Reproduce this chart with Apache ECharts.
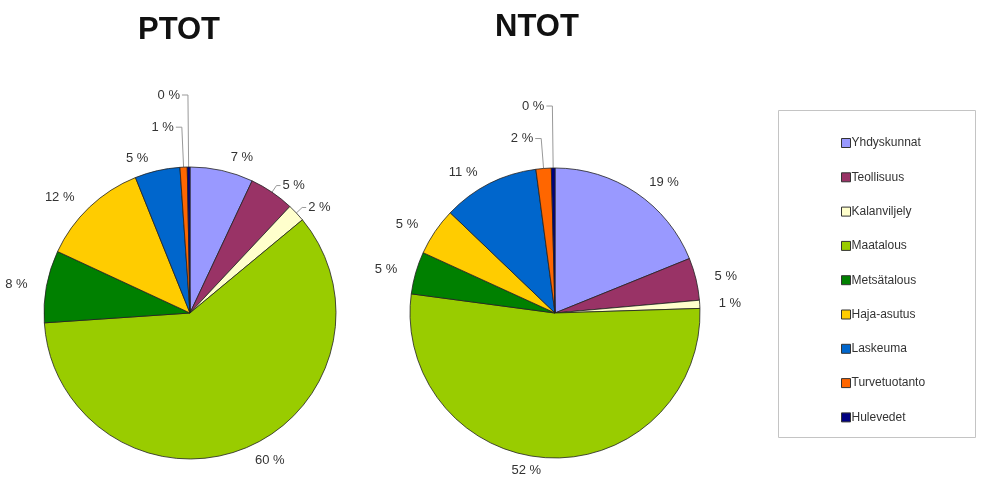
<!DOCTYPE html>
<html>
<head>
<meta charset="utf-8">
<script src="https://cdn.jsdelivr.net/npm/echarts@6/dist/echarts.min.js"></script>
<style>
html,body{margin:0;padding:0;background:#fff;}
#chart{width:997px;height:483px;}
</style>
</head>
<body>
<div id="chart"></div>
<script>
const categories = ['Yhdyskunnat','Teollisuus','Kalanviljely','Maatalous','Metsätalous','Haja-asutus','Laskeuma','Turvetuotanto','Hulevedet'];
const ptotValues = [7, 5, 2, 60, 8, 12, 5, 0.8, 0.3];
const ntotValues = [18.8, 4.7, 0.9, 52.4, 4.7, 5.3, 10.7, 1.7, 0.4];
const chartTitles = ['PTOT', 'NTOT'];

const colors = ['#9999FF','#993366','#FFFFCC','#99CC00','#008000','#FFCC00','#0066CC','#FF6600','#000080'];

// leader line settings per category index for each pie
const ptotLines = {1:{show:true,length:8,length2:4}, 2:{show:true,length:8,length2:4}, 7:{show:true,length:40,length2:6}, 8:{show:true,length:72,length2:6}};
const ntotLines = {7:{show:true,length:30,length2:6}, 8:{show:true,length:62,length2:6}};

function buildData(values, lines) {
  return categories.map((name, i) => {
    const d = {name: name, value: values[i], itemStyle: {color: colors[i]}};
    if (lines[i]) d.labelLine = lines[i];
    return d;
  });
}

function pieSeries(title, values, lines, center, radius) {
  return {
    name: title,
    type: 'pie',
    center: center,
    radius: radius,
    startAngle: 90,
    clockwise: true,
    avoidLabelOverlap: false,
    silent: true,
    itemStyle: {borderColor: '#222', borderWidth: 0.8},
    label: {
      show: true,
      position: 'outside',
      formatter: p => Math.round(p.value) + ' %',
      color: '#333',
      fontSize: 13,
      fontFamily: 'Liberation Sans, Arial, sans-serif',
      distanceToLabelLine: 2
    },
    labelLine: {show: false, length: 13, length2: 4, smooth: false, lineStyle: {color: '#999', width: 1}},
    emphasis: {disabled: true},
    data: buildData(values, lines)
  };
}

const chart = echarts.init(document.getElementById('chart'));
chart.setOption({
  animation: false,
  backgroundColor: '#fff',
  title: [
    {text: chartTitles[0], left: 174, top: 10, textAlign: 'center',
     textStyle: {fontSize: 31, fontWeight: 'bold', color: '#111', fontFamily: 'Liberation Sans, Arial, sans-serif'}},
    {text: chartTitles[1], left: 532, top: 7, textAlign: 'center',
     textStyle: {fontSize: 31, fontWeight: 'bold', color: '#111', fontFamily: 'Liberation Sans, Arial, sans-serif'}}
  ],
  graphic: [{
    type: 'rect', left: 778, top: 110, shape: {width: 197, height: 327},
    style: {fill: '#fff', stroke: '#c4c4c4', lineWidth: 1}, z: -1
  }],
  legend: {
    orient: 'vertical',
    left: 836,
    top: 132,
    data: categories,
    icon: 'rect',
    itemWidth: 9,
    itemHeight: 9,
    itemGap: 22.3,
    selectedMode: false,
    itemStyle: {borderColor: '#333', borderWidth: 1},
    textStyle: {fontSize: 12, color: '#333', fontFamily: 'Liberation Sans, Arial, sans-serif', padding: [0,0,0,-4]}
  },
  series: [
    pieSeries(chartTitles[0], ptotValues, ptotLines, [190, 313], 146),
    pieSeries(chartTitles[1], ntotValues, ntotLines, [555, 313], 145)
  ]
});
</script>
</body>
</html>
